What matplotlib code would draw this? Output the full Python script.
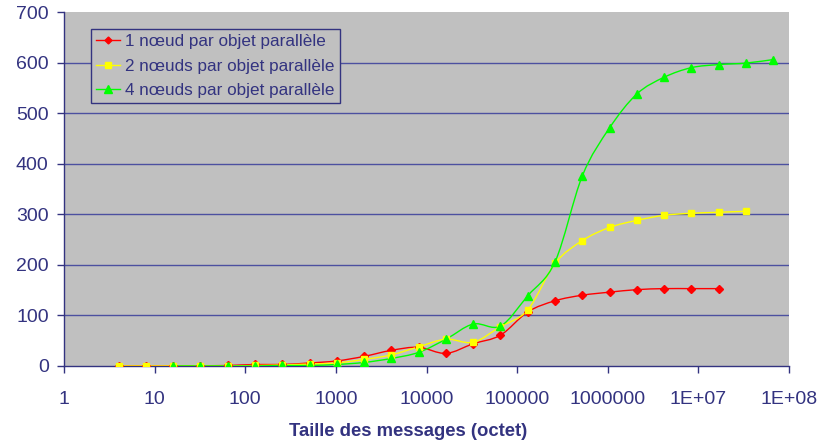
import matplotlib
matplotlib.use("Agg")
import matplotlib.pyplot as plt
import numpy as np
from matplotlib.path import Path
from matplotlib.patches import PathPatch
from matplotlib.lines import Line2D
from matplotlib.ticker import FixedLocator, FixedFormatter, NullLocator

plt.rcParams['font.family'] = ['Liberation Sans', 'DejaVu Sans']

# ---- data ----
sizes_red = [4, 8, 16, 32, 64, 128, 256, 512, 1024, 2048, 4096, 8192, 16384,
             32768, 65536, 131072, 262144, 524288, 1048576, 2097152, 4194304,
             8388608, 16777216]
vals_red = [0, 0, 0, 0.5, 1, 3, 3, 6, 10, 19, 31, 37, 25,
            44, 61, 107, 129, 140, 146, 151, 153, 153, 153]

sizes_yellow = [4, 8, 16, 32, 64, 128, 256, 512, 1024, 2048, 4096, 8192, 16384,
                32768, 65536, 131072, 262144, 524288, 1048576, 2097152, 4194304,
                8388608, 16777216, 33554432]
vals_yellow = [0, 0, 0, 0, 0, 1, 2, 4, 6, 13, 22, 38, 53,
               47, 78, 111, 203, 248, 274, 288, 298, 302, 304, 306]

sizes_green = [16, 32, 64, 128, 256, 512, 1024, 2048, 4096, 8192, 16384,
               32768, 65536, 131072, 262144, 524288, 1048576, 2097152, 4194304,
               8388608, 16777216, 33554432, 67108864]
vals_green = [0, 0, 0, 0, 1, 1, 3, 7, 15, 27, 53,
              83, 79, 139, 206, 376, 471, 538, 571, 590, 596, 599, 606]

labels = ["1 nœud par objet parallèle",
          "2 nœuds par objet parallèle",
          "4 nœuds par objet parallèle"]

xtick_vals = [1, 10, 100, 1000, 10000, 100000, 1000000, 1e7, 1e8]
xtick_labels = ["1", "10", "100", "1000", "10000", "100000", "1000000", "1E+07", "1E+08"]
ytick_vals = [0, 100, 200, 300, 400, 500, 600, 700]

xlabel = "Taille des messages (octet)"

# ---- style ----
NAVY = '#333380'
GRID = '#4C50A0'
BG = '#C0C0C0'
colors = ['#FF0000', '#FFFF00', '#00FF00']
markers = ['D', 's', '^']
msizes = [4.0, 5.0, 6.0]

W, H = 836, 443
fig = plt.figure(figsize=(W / 100, H / 100), dpi=100)
ax = fig.add_axes([64 / W, 1 - 366 / H, (789 - 64) / W, (366 - 12) / H])
ax.set_facecolor(BG)


def smooth_path(xs, ys):
    """Excel-like smoothed line as cubic Bezier segments (computed in log-x space)."""
    lx = np.log10(np.asarray(xs, float))
    y = np.asarray(ys, float)
    n = len(lx)
    verts = [(lx[0], y[0])]
    codes = [Path.MOVETO]
    for i in range(n - 1):
        p0 = np.array([lx[max(i - 1, 0)], y[max(i - 1, 0)]])
        p1 = np.array([lx[i], y[i]])
        p2 = np.array([lx[i + 1], y[i + 1]])
        p3 = np.array([lx[min(i + 2, n - 1)], y[min(i + 2, n - 1)]])
        c1 = p1 + (p2 - p0) / 6.0
        c2 = p2 - (p3 - p1) / 6.0
        verts += [tuple(c1), tuple(c2), tuple(p2)]
        codes += [Path.CURVE4] * 3
    verts = np.array(verts)
    verts[:, 0] = 10 ** verts[:, 0]
    return Path(verts, codes)


ax.set_xscale('log')
ax.set_xlim(1, 1e8)
ax.set_ylim(0, 700)

series = [(sizes_red, vals_red), (sizes_yellow, vals_yellow), (sizes_green, vals_green)]
handles = []
for (xs, ys), c, m, ms, lab in zip(series, colors, markers, msizes, labels):
    patch = PathPatch(smooth_path(xs, ys), facecolor='none', edgecolor=c, lw=1.0, zorder=3)
    ax.add_patch(patch)
    ax.plot(xs, ys, linestyle='none', marker=m, markersize=ms, color=c,
            markeredgecolor=c, zorder=4)
    handles.append(Line2D([], [], color=c, lw=1.0, marker=m, markersize=ms - 0.5,
                          markeredgecolor=c, label=lab))

# grid
ax.set_yticks(ytick_vals)
ax.yaxis.grid(True, color=GRID, lw=1.0, zorder=1)
ax.set_axisbelow(True)
gl = ax.get_ygridlines()
gl[-1].set_visible(False)
gl[0].set_visible(False)

ax.xaxis.set_major_locator(FixedLocator(xtick_vals))
ax.xaxis.set_major_formatter(FixedFormatter(xtick_labels))
ax.xaxis.set_minor_locator(NullLocator())

for s in ['top', 'right']:
    ax.spines[s].set_visible(False)
for s in ['left', 'bottom']:
    ax.spines[s].set_color(NAVY)
    ax.spines[s].set_linewidth(1.0)

ax.tick_params(axis='x', direction='out', length=5, width=1, color=NAVY,
               labelcolor=NAVY, labelsize=14, pad=13)
ax.tick_params(axis='y', direction='out', length=5, width=1, color=NAVY,
               labelcolor=NAVY, labelsize=14, pad=6)

fig.text(408 / W, 1 - 432 / H, xlabel, ha='center', va='center',
         fontsize=13.3, fontweight='bold', color=NAVY)

leg = ax.legend(handles=handles, loc='upper left',
                bbox_to_anchor=(91 / W, 1 - 29 / H), bbox_transform=fig.transFigure,
                fontsize=12.3, frameon=True, fancybox=False, framealpha=1,
                facecolor=BG, edgecolor=NAVY, handlelength=1.4, handletextpad=0.3,
                borderpad=0.3, labelspacing=0.55, borderaxespad=0)
leg.get_frame().set_linewidth(1.0)
for t in leg.get_texts():
    t.set_color(NAVY)

fig.savefig('out.png', dpi=100)
